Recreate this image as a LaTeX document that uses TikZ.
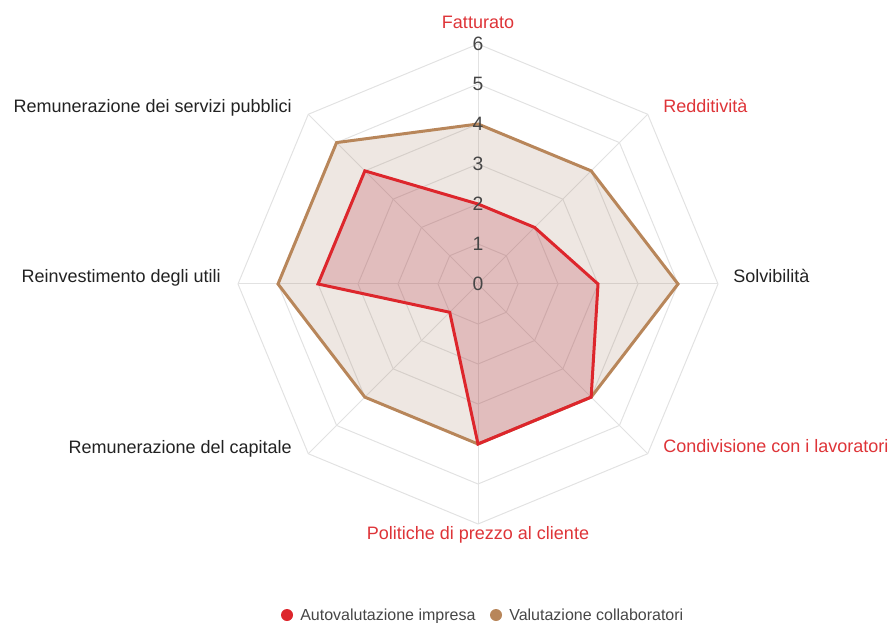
\documentclass[tikz,border=0pt]{standalone}
\usepackage{fontspec}
\setmainfont{Liberation Sans}
\usepackage{tikz}

\definecolor{gridgray}{RGB}{226,226,226}
\definecolor{valred}{RGB}{221,38,44}
\definecolor{valbrown}{RGB}{184,134,90}
\definecolor{fillred}{RGB}{180,40,60}
\definecolor{fillbrown}{RGB}{170,135,110}
\definecolor{lblred}{RGB}{222,52,56}
\definecolor{lblblack}{RGB}{34,34,34}
\definecolor{tickgray}{RGB}{70,70,70}

\begin{document}
\begin{tikzpicture}[x=0.75pt,y=0.75pt,yscale=-1,xscale=1,
        gridline/.style={draw=gridgray,line width=0.75pt},
        brownarea/.style={draw=valbrown,line width=2.25pt,fill=fillbrown,fill opacity=0.2},
        redarea/.style={draw=valred,line width=2.25pt,fill=fillred,fill opacity=0.22},
        ticklbl/.style={anchor=center,inner sep=0.75pt,text=tickgray,font=\fontsize{14.5}{17}\selectfont},
        axislbl/.style={inner sep=0.75pt,text=lblblack,font=\fontsize{13.5}{16}\selectfont},
        redlbl/.style={axislbl,text=lblred},
        legendlbl/.style={anchor=base west,inner sep=0.75pt,text=tickgray,font=\fontsize{12}{14}\selectfont},
        legenddot/.style={circle,inner sep=0pt,minimum size=9pt}]
        \useasboundingbox (0,0) rectangle (891,623); %set diagram to 891 x 623

        %Shape: Polygon [id:grid1] 
        \draw [gridline] (478,244) -- (506.28,255.72) -- (518,284) -- (506.28,312.28) -- (478,324) -- (449.72,312.28) -- (438,284) -- (449.72,255.72) -- cycle ;
        %Shape: Polygon [id:grid2] 
        \draw [gridline] (478,204) -- (534.57,227.43) -- (558,284) -- (534.57,340.57) -- (478,364) -- (421.43,340.57) -- (398,284) -- (421.43,227.43) -- cycle ;
        %Shape: Polygon [id:grid3] 
        \draw [gridline] (478,164) -- (562.85,199.15) -- (598,284) -- (562.85,368.85) -- (478,404) -- (393.15,368.85) -- (358,284) -- (393.15,199.15) -- cycle ;
        %Shape: Polygon [id:grid4] 
        \draw [gridline] (478,124) -- (591.14,170.86) -- (638,284) -- (591.14,397.14) -- (478,444) -- (364.86,397.14) -- (318,284) -- (364.86,170.86) -- cycle ;
        %Shape: Polygon [id:grid5] 
        \draw [gridline] (478,84) -- (619.42,142.58) -- (678,284) -- (619.42,425.42) -- (478,484) -- (336.58,425.42) -- (278,284) -- (336.58,142.58) -- cycle ;
        %Shape: Polygon [id:grid6] 
        \draw [gridline] (478,44) -- (647.71,114.29) -- (718,284) -- (647.71,453.71) -- (478,524) -- (308.29,453.71) -- (238,284) -- (308.29,114.29) -- cycle ;

        %Straight Lines [id:spokes] 
        \coordinate (ctr) at (478,284) ;
        \draw [gridline] (ctr) -- (478,44) ;
        \draw [gridline] (ctr) -- (647.71,114.29) ;
        \draw [gridline] (ctr) -- (718,284) ;
        \draw [gridline] (ctr) -- (647.71,453.71) ;
        \draw [gridline] (ctr) -- (478,524) ;
        \draw [gridline] (ctr) -- (308.29,453.71) ;
        \draw [gridline] (ctr) -- (238,284) ;
        \draw [gridline] (ctr) -- (308.29,114.29) ;

        %Shape: Polygon [id:collaboratori] 
        \draw [brownarea] (478,124) -- (591.14,170.86) -- (678,284) -- (591.14,397.14) -- (478,444) -- (364.86,397.14) -- (278,284) -- (336.58,142.58) -- cycle ;
        %Shape: Polygon [id:impresa] 
        \draw [redarea] (478,204) -- (534.57,227.43) -- (598,284) -- (591.14,397.14) -- (478,444) -- (449.72,312.28) -- (318,284) -- (364.86,170.86) -- cycle ;

        % Text Node
        \draw (478,284) node [ticklbl] (tick0) {0};
        % Text Node
        \draw (478,244) node [ticklbl] (tick1) {1};
        % Text Node
        \draw (478,204) node [ticklbl] (tick2) {2};
        % Text Node
        \draw (478,164) node [ticklbl] (tick3) {3};
        % Text Node
        \draw (478,124) node [ticklbl] (tick4) {4};
        % Text Node
        \draw (478,84) node [ticklbl] (tick5) {5};
        % Text Node
        \draw (478,44) node [ticklbl] (tick6) {6};

        % Text Node
        \draw (478,29) node [anchor=base][redlbl] (fatturato) {Fatturato};
        % Text Node
        \draw (662,113) node [anchor=base west][redlbl] (redditivita) {Redditività};
        % Text Node
        \draw (732,282) node [anchor=base west][axislbl] (solvibilita) {Solvibilità};
        % Text Node
        \draw (662,452) node [anchor=base west][redlbl] (condivisione) {Condivisione con i lavoratori};
        % Text Node
        \draw (478,539) node [anchor=base][redlbl] (politiche) {Politiche di prezzo al cliente};
        % Text Node
        \draw (293,453) node [anchor=base east][axislbl] (capitale) {Remunerazione del capitale};
        % Text Node
        \draw (222,282) node [anchor=base east][axislbl] (reinvestimento) {Reinvestimento degli utili};
        % Text Node
        \draw (293,113) node [anchor=base east][axislbl] (servizi) {Remunerazione dei servizi pubblici};

        % Legend
        \draw (287,615) node [legenddot,fill=valred] (dotimpresa) {};
        \draw (299,620.5) node [legendlbl] (legimpresa) {Autovalutazione impresa};
        \draw (496,615) node [legenddot,fill=valbrown] (dotcollab) {};
        \draw (508,620.5) node [legendlbl] (legcollab) {Valutazione collaboratori};

\end{tikzpicture}
\end{document}
